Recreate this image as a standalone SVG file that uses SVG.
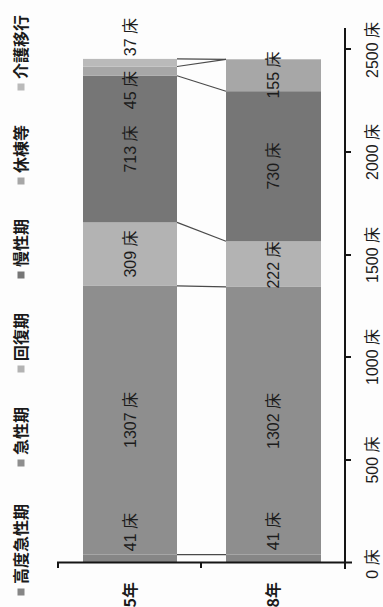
<svg xmlns="http://www.w3.org/2000/svg" width="383" height="607" viewBox="0 0 383 607">
<style>
.c1{fill:#868686}.c2{fill:#8e8e8e}.c3{fill:#b3b3b3}.c4{fill:#767676}.c5{fill:#a7a7a7}.c6{fill:#bababa}
.lbl{font-family:"Liberation Sans","Noto Sans CJK JP",sans-serif;font-size:16px;fill:#1c1c1c;text-anchor:middle;dominant-baseline:central}
.leg{font-family:"Noto Sans CJK JP",sans-serif;font-size:16px;font-weight:bold;fill:#1a1a1a;dominant-baseline:central}
.cat{font-family:"Noto Sans CJK JP",sans-serif;font-size:16px;font-weight:bold;fill:#1a1a1a;text-anchor:end;dominant-baseline:central}
.ax{stroke:#151515;stroke-width:2;fill:none}
.sl{stroke:#4a4a4a;stroke-width:1.2;fill:none}
</style>
<rect width="383" height="607" fill="#fdfdfd"/>
<g id="legend">
<rect class="c1" x="17.5" y="588.5" width="7" height="7"/>
<text class="leg" transform="translate(20,584) rotate(-90)">高度急性期</text>
<rect class="c2" x="17.5" y="459.5" width="7" height="7"/>
<text class="leg" transform="translate(20,455) rotate(-90)">急性期</text>
<rect class="c3" x="17.5" y="365.5" width="7" height="7"/>
<text class="leg" transform="translate(20,361) rotate(-90)">回復期</text>
<rect class="c4" x="17.5" y="271.5" width="7" height="7"/>
<text class="leg" transform="translate(20,267) rotate(-90)">慢性期</text>
<rect class="c5" x="17.5" y="177.5" width="7" height="7"/>
<text class="leg" transform="translate(20,173) rotate(-90)">休棟等</text>
<rect class="c6" x="17.5" y="83.5" width="7" height="7"/>
<text class="leg" transform="translate(20,79) rotate(-90)">介護移行</text>
</g>
<g id="bar-5">
<rect class="c1" x="83" y="554.6" width="94" height="8.4"/>
<rect class="c2" x="83" y="285.9" width="94" height="268.7"/>
<rect class="c3" x="83" y="222.4" width="94" height="63.5"/>
<rect class="c4" x="83" y="75.8" width="94" height="146.6"/>
<rect class="c5" x="83" y="66.5" width="94" height="9.3"/>
<rect class="c6" x="83" y="58.9" width="94" height="7.6"/>
<text class="lbl" transform="translate(130,532) rotate(-90)">41 床</text>
<text class="lbl" transform="translate(130,420) rotate(-90)">1307 床</text>
<text class="lbl" transform="translate(130,254) rotate(-90)">309 床</text>
<text class="lbl" transform="translate(130,149) rotate(-90)">713 床</text>
<text class="lbl" transform="translate(130,90) rotate(-90)">45 床</text>
<text class="lbl" transform="translate(130,37) rotate(-90)">37 床</text>
</g>
<g id="bar-8">
<rect class="c1" x="226" y="554.6" width="95" height="8.4"/>
<rect class="c2" x="226" y="286.9" width="95" height="267.7"/>
<rect class="c3" x="226" y="241.3" width="95" height="45.6"/>
<rect class="c4" x="226" y="91.2" width="95" height="150.1"/>
<rect class="c5" x="226" y="59.3" width="95" height="31.9"/>
<text class="lbl" transform="translate(273,531) rotate(-90)">41 床</text>
<text class="lbl" transform="translate(273,421) rotate(-90)">1302 床</text>
<text class="lbl" transform="translate(273,265) rotate(-90)">222 床</text>
<text class="lbl" transform="translate(273,166) rotate(-90)">730 床</text>
<text class="lbl" transform="translate(273,75) rotate(-90)">155 床</text>
</g>
<g id="connectors">
<line class="sl" x1="177" y1="554.6" x2="226" y2="554.6"/>
<line class="sl" x1="177" y1="285.9" x2="226" y2="286.9"/>
<line class="sl" x1="177" y1="222.4" x2="226" y2="241.3"/>
<line class="sl" x1="177" y1="75.8" x2="226" y2="91.2"/>
<line class="sl" x1="177" y1="66.5" x2="226" y2="59.3"/>
<line class="sl" x1="177" y1="58.9" x2="226" y2="59.3"/>
</g>
<g id="axes">
<path class="ax" d="M58,568 V562.5 H352"/>
<path class="ax" d="M201,562.5 V568"/>
<path class="ax" d="M345,28 V569"/>
<path class="ax" d="M345,49 H351 M345,152 H351 M345,255 H351 M345,357 H351 M345,460 H351"/>
<text class="lbl" transform="translate(372,564) rotate(-90)">0 床</text>
<text class="lbl" transform="translate(372,460) rotate(-90)">500 床</text>
<text class="lbl" transform="translate(372,357) rotate(-90)">1000 床</text>
<text class="lbl" transform="translate(372,255) rotate(-90)">1500 床</text>
<text class="lbl" transform="translate(372,152) rotate(-90)">2000 床</text>
<text class="lbl" transform="translate(372,50) rotate(-90)">2500 床</text>
<text class="cat" transform="translate(129,582) rotate(-90)">5年</text>
<text class="cat" transform="translate(272,582) rotate(-90)">8年</text>
</g>
</svg>
